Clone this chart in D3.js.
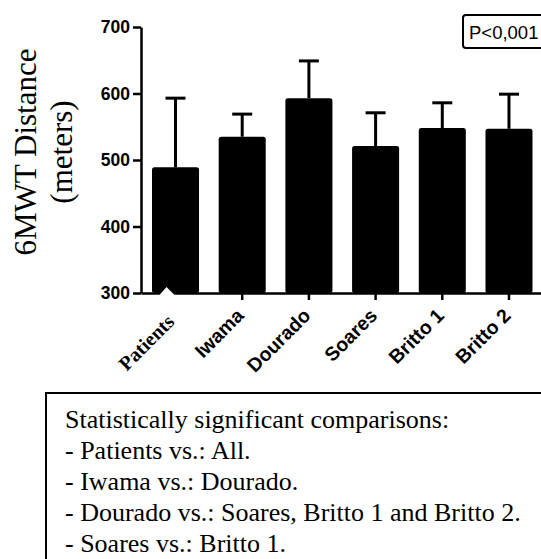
<!DOCTYPE html>
<html>
<head>
<meta charset="utf-8">
<script src="https://cdn.jsdelivr.net/npm/d3@7"></script>
<style>
  body { margin: 0; background: #fff; }
  svg { display: block; }
</style>
</head>
<body>
<script>
// group means and upper SD whiskers
var groups = ["Patients", "Iwama", "Dourado", "Soares", "Britto 1", "Britto 2"];
var means = [489, 535, 593, 521, 548, 547];
var upper = [593, 569, 649, 571, 586, 599];
var yTicks = [300, 400, 500, 600, 700];
var notes = [
  "Statistically significant comparisons:",
  "- Patients vs.: All.",
  "- Iwama vs.: Dourado.",
  "- Dourado vs.: Soares, Britto 1 and Britto 2.",
  "- Soares vs.: Britto 1."
];

var W = 541, H = 559;
var svg = d3.select("body").append("svg")
  .attr("width", W)
  .attr("height", H);

var x = d3.scaleBand()
  .domain(groups)
  .range([141, 543.5])
  .paddingInner(0.295)
  .paddingOuter(0.165);

var y = d3.scaleLinear()
  .domain([300, 700])
  .range([293, 27]);

// bars
svg.append("g").selectAll("rect")
  .data(groups)
  .join("rect")
  .attr("x", function(d) { return x(d); })
  .attr("y", function(d, i) { return y(means[i]); })
  .attr("width", x.bandwidth())
  .attr("height", function(d, i) { return y(300) - y(means[i]); })
  .attr("rx", 2.5)
  .attr("fill", "#000");

// error whiskers
var err = svg.append("g").attr("stroke", "#000").attr("stroke-width", 3);
groups.forEach(function(g, i) {
  var cx = x(g) + x.bandwidth() / 2;
  err.append("line")
    .attr("x1", cx).attr("x2", cx)
    .attr("y1", y(means[i])).attr("y2", y(upper[i]));
  err.append("line")
    .attr("x1", cx - 10).attr("x2", cx + 10)
    .attr("y1", y(upper[i])).attr("y2", y(upper[i]));
});

// y axis
var yAxis = svg.append("g")
  .attr("transform", "translate(141,0)")
  .call(d3.axisLeft(y).tickValues(yTicks).tickSize(8).tickSizeOuter(0).tickPadding(3));
yAxis.select(".domain").attr("stroke-width", 2.5);
yAxis.selectAll(".tick line").attr("stroke-width", 2.5);
yAxis.selectAll("text")
  .attr("font-family", "Liberation Sans, Arial, sans-serif")
  .attr("font-weight", "bold")
  .attr("font-size", 17.5)
  .attr("fill", "#000");

// x axis
var xAxis = svg.append("g")
  .attr("transform", "translate(0,293)")
  .call(d3.axisBottom(x).tickSize(7).tickSizeOuter(0));
xAxis.select(".domain").attr("stroke-width", 2.5);
xAxis.selectAll(".tick line").attr("stroke-width", 2.5);
xAxis.selectAll(".tick").filter(function(d) { return d === "Patients"; })
  .select("line").remove();
xAxis.selectAll(".tick text")
  .attr("font-family", function(d) {
    return d === "Patients" ? "Liberation Serif, Times New Roman, serif" : "Liberation Sans, Arial, sans-serif";
  })
  .attr("font-weight", "bold")
  .attr("font-size", function(d) { return d === "Patients" ? 20 : 19.5; })
  .attr("fill", "#000")
  .attr("text-anchor", "end")
  .attr("dy", "0.35em")
  .attr("transform", function(d) {
    return d === "Patients" ? "translate(-5,25) rotate(-45)" : "translate(-2,19) rotate(-45)";
  })
  .attr("x", 0).attr("y", 0);

// white notch at the base of the first bar
var c0 = x("Patients") + x.bandwidth() / 2;
svg.append("path")
  .attr("d", "M" + (c0 - 16) + ",295L" + (c0 - 9) + ",287L" + (c0 - 1) + ",295Z")
  .attr("fill", "#fff");

// y label
var yl = svg.append("text")
  .attr("transform", "translate(0,152) rotate(-90)")
  .attr("font-family", "Liberation Serif, Times New Roman, serif")
  .attr("font-size", 31)
  .attr("text-anchor", "middle")
  .attr("fill", "#000");
yl.append("tspan").attr("x", 0).attr("y", 36).text("6MWT Distance");
yl.append("tspan").attr("x", 0).attr("y", 72).text("(meters)");

// p value box
svg.append("rect")
  .attr("x", 463).attr("y", 15)
  .attr("width", 110).attr("height", 33)
  .attr("rx", 3)
  .attr("fill", "#fff")
  .attr("stroke", "#000")
  .attr("stroke-width", 2);
svg.append("text")
  .attr("x", 469).attr("y", 39)
  .attr("font-family", "Liberation Sans, Arial, sans-serif")
  .attr("font-size", 18.5)
  .attr("fill", "#000")
  .text("P<0,001");

// comparisons box
svg.append("rect")
  .attr("x", 46).attr("y", 393)
  .attr("width", 520).attr("height", 200)
  .attr("fill", "none")
  .attr("stroke", "#000")
  .attr("stroke-width", 2);
svg.append("g").selectAll("text")
  .data(notes)
  .join("text")
  .attr("x", 65)
  .attr("y", function(d, i) { return 428 + i * 31; })
  .attr("font-family", "Liberation Serif, Times New Roman, serif")
  .attr("font-size", 26)
  .attr("fill", "#000")
  .text(function(d) { return d; });
</script>
</body>
</html>
